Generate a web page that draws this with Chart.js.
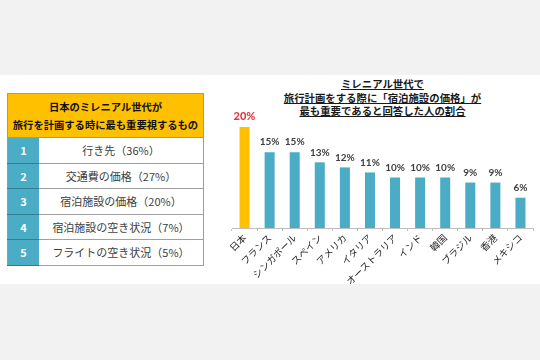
<!DOCTYPE html>
<html>
<head>
<meta charset="utf-8">
<script src="https://cdn.jsdelivr.net/npm/chart.js@4/dist/chart.umd.min.js"></script>
<style>
  html, body { margin: 0; padding: 0; }
  body {
    width: 540px; height: 360px; background: #f2f2f2; position: relative; overflow: hidden;
    font-family: "Noto Sans CJK JP", sans-serif;
  }
  .band { position: absolute; left: 0; top: 75px; width: 540px; height: 209px; background: #fff; }
  .rank {
    position: absolute; left: 7px; top: 93px; width: 197px;
    border-collapse: collapse; border: 1px solid #9a9a9a;
  }
  .rank th {
    background: #ffc000; color: #111; font-size: 10.3px; font-weight: bold;
    line-height: 18px; height: 43px; padding: 0; text-align: center; border-bottom: 1px solid #9a9a9a;
  }
  .rank td { height: 24.5px; padding: 0; border-bottom: 1.5px solid #a0a0a0; }
  .rank td.no {
    width: 31px; background: #4bacc6; color: #fff; font-weight: bold; font-size: 11px;
    text-align: center; border-bottom-color: #2f7f94;
  }
  .rank td.item { color: #404040; font-size: 11px; text-align: center; background: #fff; }
  .title {
    position: absolute; left: 230px; top: 77px; width: 305px; text-align: center;
    font-size: 10.4px; font-weight: bold; line-height: 13.6px; color: #1a1a1a;
  }
  .title span { text-decoration: underline; }
  #chartBox { position: absolute; left: 210px; top: 75px; width: 330px; height: 209px; }
</style>
</head>
<body>
<div class="band"></div>
<table class="rank" id="rank"></table>
<div class="title">
  <span>ミレニアル世代で</span><br>
  <span>旅行計画をする際に「宿泊施設の価格」が</span><br>
  <span>最も重要であると回答した人の割合</span>
</div>
<div id="chartBox"><canvas id="chart"></canvas></div>
<script>
"use strict";

// Left table: what Japanese millennials value most when planning a trip
var tableTitle = ['日本のミレニアル世代が', '旅行を計画する時に最も重要視するもの'];
var rankItems = ['行き先（36%）', '交通費の価格（27%）', '宿泊施設の価格（20%）', '宿泊施設の空き状況（7%）', 'フライトの空き状況（5%）'];

// Chart data
var countries = ['日本', 'フランス', 'シンガポール', 'スペイン', 'アメリカ', 'イタリア', 'オーストラリア', 'インド', '韓国', 'ブラジル', '香港', 'メキシコ'];
var shares = [20, 15, 15, 13, 12, 11, 10, 10, 10, 9, 9, 6];

// build table
var table = document.getElementById('rank');
var html = '<tr><th colspan="2">' + tableTitle.join('<br>') + '</th></tr>';
rankItems.forEach(function (item, i) {
    html += '<tr><td class="no">' + (i + 1) + '</td><td class="item">' + item + '</td></tr>';
});
table.innerHTML = html;

// value labels above bars
var barLabels = {
    id: 'barLabels',
    afterDatasetsDraw: function (chart) {
        var ctx = chart.ctx;
        var meta = chart.getDatasetMeta(0);
        ctx.save();
        ctx.textAlign = 'center';
        ctx.textBaseline = 'middle';
        meta.data.forEach(function (bar, i) {
            if (i === 0) {
                ctx.fillStyle = '#e2383f';
                ctx.font = '900 11px Lato, sans-serif';
                ctx.fillText(shares[i] + '%', bar.x, bar.y - 11);
            } else {
                ctx.fillStyle = '#404040';
                ctx.font = 'bold 10px Lato, sans-serif';
                ctx.fillText(shares[i] + '%', bar.x, bar.y - 10);
            }
        });
        ctx.restore();
    }
};

new Chart(document.getElementById('chart').getContext('2d'), {
    type: 'bar',
    data: {
        labels: countries,
        datasets: [{
            data: shares,
            backgroundColor: countries.map(function (c, i) { return i === 0 ? '#ffc000' : '#4bacc6'; }),
            barPercentage: 0.8,
            categoryPercentage: 0.5
        }]
    },
    options: {
        responsive: true,
        maintainAspectRatio: false,
        animation: false,
        layout: { padding: { top: 52, left: 22, right: 7, bottom: 0 } },
        scales: {
            x: {
                grid: { display: true, offset: true, drawOnChartArea: false, tickLength: 3, color: '#bfbfbf' },
                border: { display: true, color: '#bfbfbf' },
                ticks: {
                    minRotation: 45, maxRotation: 45, autoSkip: false, padding: 1,
                    color: '#1f1f1f', font: { family: 'Noto Sans CJK JP', size: 9.5 }
                },
                afterFit: function (scale) { scale.height = 56; }
            },
            y: { display: false, min: 0, max: 20 }
        },
        plugins: {
            legend: { display: false },
            tooltip: { enabled: false }
        }
    },
    plugins: [barLabels]
});
</script>
</body>
</html>
